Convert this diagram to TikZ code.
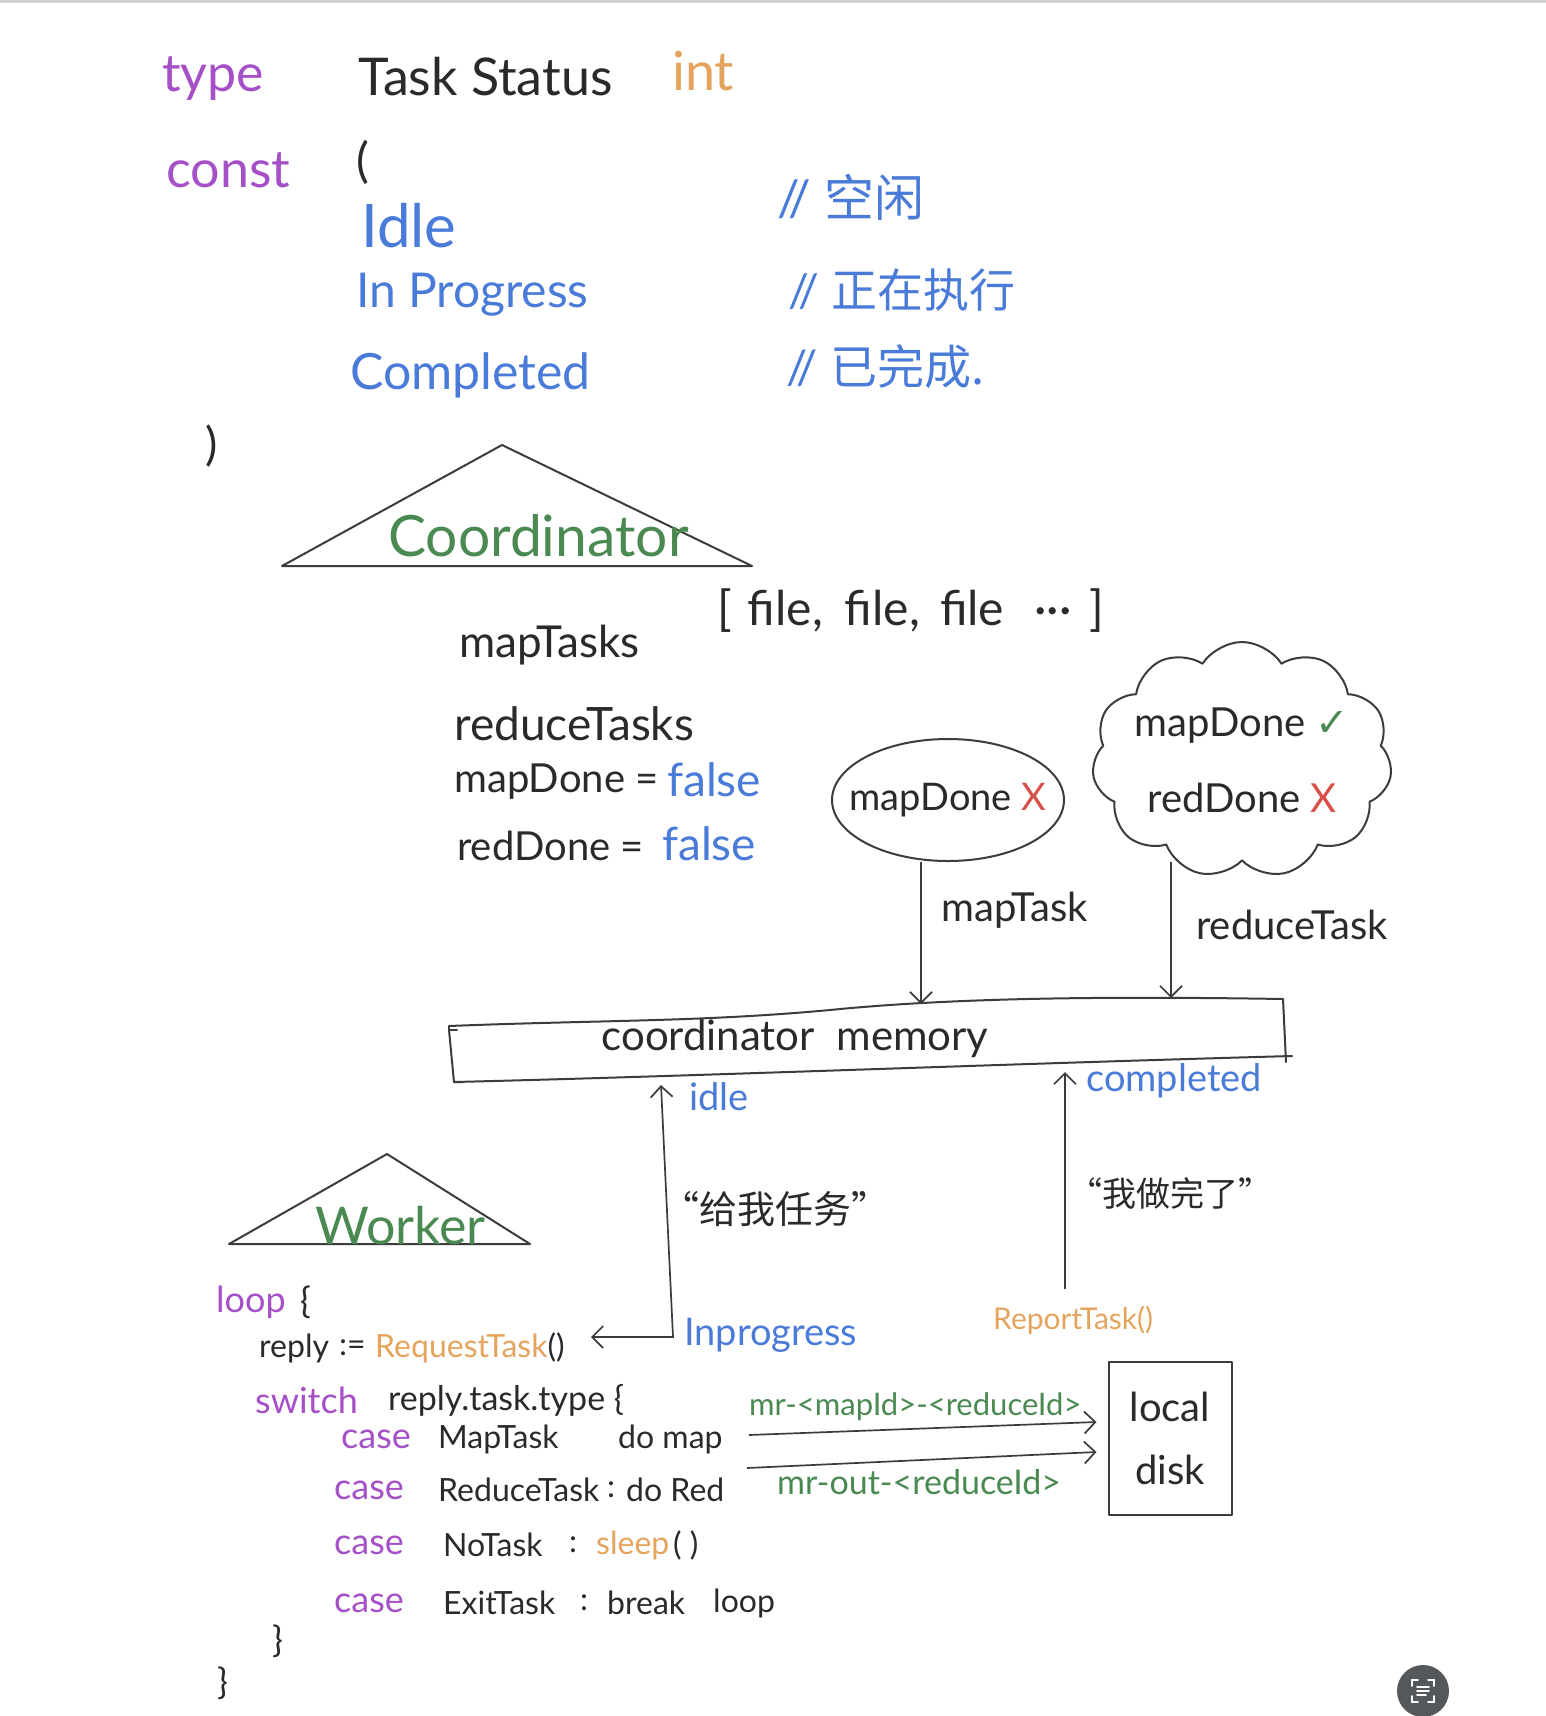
\documentclass[tikz,border=0pt]{standalone}
\usepackage{fontspec}
\setmainfont{Lato}
\newfontfamily\cjk{Noto Sans CJK SC}
\newfontfamily\symf{DejaVu Sans}
\usetikzlibrary{arrows.meta,shapes.geometric,shapes.symbols,calc}
\definecolor{kw}{HTML}{A650C8}
\definecolor{bl}{HTML}{4A7BD8}
\definecolor{og}{HTML}{E5A45E}
\definecolor{gr}{HTML}{4A8A52}
\definecolor{rd}{HTML}{D8504A}
\definecolor{ink}{HTML}{2A2A2A}
\definecolor{pen}{HTML}{3C3C3C}
\definecolor{iconbg}{HTML}{55585B}
\begin{document}
\begin{tikzpicture}[x=1pt,y=-1pt,
  txt/.style={inner sep=0pt, anchor=west, text=ink},
  fz/.style={font=\fontsize{#1}{#1}\selectfont},
  pen/.style={draw=pen, line width=2pt, line join=round, line cap=round},
  arr/.style={draw=pen, line width=1.7pt, -{Straight Barb[length=11pt,width=22pt,line width=1.7pt]}},
  arrb/.style={draw=pen, line width=1.7pt, {Straight Barb[length=11pt,width=22pt,line width=1.7pt]}-{Straight Barb[length=11pt,width=22pt,line width=1.7pt]}}
]
\useasboundingbox (0,0) rectangle (1546,1716);
\fill[white] (0,0) rectangle (1546,1716);
\fill[gray!35] (0,0) rectangle (1546,3);

% ---------- header ----------
\node[txt,fz=52,text=kw] (type) at (162,79) {type};
\node[txt,fz=52] (tstatus) at (358,77) {Task Status};
\node[txt,fz=54,text=og] (int) at (672,71) {int};
\node[txt,fz=52,text=kw] (const) at (166,170) {const};
\node[txt,fz=48] (lpar) at (356,162) {(};
\node[txt,fz=60,text=bl] (idle) at (361,226) {Idle};
\node[txt,fz=48,text=bl] (inprog) at (356,295) {In Progress};
\node[txt,fz=50,text=bl] (compl) at (350,375) {Completed};
\node[txt,fz=50,text=bl] (c1) at (777,197) {// {\cjk 空闲}};
\node[txt,fz=46,text=bl] (c2) at (788,290) {// {\cjk 正在执行}};
\node[txt,fz=47,text=bl] (c3) at (786,367) {// {\cjk 已完成.}};
\node[txt,fz=46] (rpar) at (205,446) {)};

% ---------- coordinator ----------
\coordinate (ctA) at (502,445);
\coordinate (ctL) at (282,566);
\coordinate (ctR) at (752,566);
\draw[pen] (ctL) -- (ctA) -- (ctR) -- cycle;
\node[txt,fz=57,text=gr] (coordt) at (388,536) {Coordinator};

\node[txt,fz=44] (maptasks) at (459,645) {mapTasks};
\node[txt,fz=48] (files) at (717,611) {[\hspace{16pt}file,\hspace{22pt}file,\hspace{20pt}file\hspace{30pt}···\hspace{18pt}]};
\node[txt,fz=46] (redtasks) at (454,724) {reduceTasks};
\node[txt,fz=40] (mapdone) at (454,782) {mapDone =};
\node[txt,fz=46,text=bl] (f1) at (667,780) {false};
\node[txt,fz=40] (reddone) at (457,846) {redDone =};
\node[txt,fz=46,text=bl] (f2) at (662,844) {false};

\node[ellipse, pen, minimum width=232, minimum height=122, inner xsep=-30pt, inner ysep=0pt,
      fz=38, text=ink] (ell) at (948,800) {mapDone \textcolor{rd}{X}};
\node[cloud, pen, cloud puffs=11, cloud puff arc=115, aspect=1.25,
      minimum width=300, minimum height=236, inner xsep=-22pt, inner ysep=-28pt, align=center,
      font=\fontsize{40}{76}\selectfont, text=ink] (cld) at (1242,760)
      {mapDone {\symf\textcolor{gr}{✓}}\\redDone \textcolor{rd}{X}};

% ---------- memory ----------
\coordinate (mTL) at (449,1026);
\coordinate (mTR) at (1283,999);
\coordinate (mBR) at (1286,1062);
\coordinate (mBL) at (454,1082);
\draw[pen] (mTL) .. controls (600,1020) and (700,1022) .. (830,1010)
  .. controls (950,998) and (1100,996) .. (mTR) -- (mBR);
\draw[pen] (mTL) -- ([yshift=-4pt]mTL) -- ++(8,0);
\draw[pen] ([yshift=-4pt]mTL) -- (mBL) -- ++(8,0);
\draw[pen] (mBL) .. controls (700,1076) and (1000,1064) .. (1292,1056);
\node[txt,fz=42,anchor=center] (mem) at (795,1039) {coordinator \ memory};

\coordinate (mA) at (921,1004);
\coordinate (mB) at (1171,998);
\draw[arr] (ell.south -| mA) -- (mA);
\draw[arr] (cld.south -| mB) -- (mB);
\node[txt,fz=40] (lmaptask) at (941,910) {mapTask};
\node[txt,fz=40] (lredtask) at (1196,925) {reduceTask};

% ---------- worker ----------
\coordinate (wtA) at (387,1154);
\coordinate (wtL) at (229,1244);
\coordinate (wtR) at (530,1244);
\draw[pen] (wtL) -- (wtA) -- (wtR) -- cycle;
\node[txt,fz=52,text=gr] (workert) at (315,1226) {Worker};

\node[txt,fz=36,text=kw] (loop) at (216,1302) {loop};
\node[txt,fz=36] (lb1) at (300,1302) {\{};
\node[txt,fz=32] (reply) at (259,1348) {reply};
\node[txt,fz=32] (assign) at (339,1348) {:=};
\node[txt,fz=32] (req) at (375,1348) {\textcolor{og}{RequestTask}()};
\node[txt,fz=36,text=kw] (switch) at (255,1400) {switch};
\node[txt,fz=34] (rtt) at (388,1400) {reply.task.type \{};

\node[txt,fz=36,text=kw] (case1) at (341,1439) {case};
\node[txt,fz=32] (maptask) at (438,1439) {MapTask};
\node[txt,fz=32] (domap) at (618,1439) {do map};
\node[txt,fz=36,text=kw] (case2) at (334,1490) {case};
\node[txt,fz=32] (redtask) at (438,1490) {ReduceTask};
\node[txt,fz=32] (col2) at (607,1490) {:};
\node[txt,fz=32] (dored) at (626,1490) {do Red};
\node[txt,fz=36,text=kw] (case3) at (334,1545) {case};
\node[txt,fz=32] (notask) at (443,1545) {NoTask};
\node[txt,fz=32] (col3) at (569,1545) {:};
\node[txt,fz=32,text=og] (sleep) at (596,1545) {sleep};
\node[txt,fz=32] (par3) at (673,1545) {( )};
\node[txt,fz=36,text=kw] (case4) at (334,1603) {case};
\node[txt,fz=32] (exittask) at (443,1603) {ExitTask};
\node[txt,fz=32] (col4) at (580,1603) {:};
\node[txt,fz=32] (break) at (607,1603) {break};
\node[txt,fz=32] (loop2) at (713,1603) {loop};
\node[txt,fz=36] (rb1) at (272,1641) {\}};
\node[txt,fz=36] (rb2) at (217,1683) {\}};

% ---------- request / report arrows ----------
\coordinate (mIdle) at (661,1085);
\coordinate (bend) at (673,1337);
\coordinate (reqEnd) at (591,1337);
\draw[arrb] (mIdle) -- (bend) -- (reqEnd);
\node[txt,fz=38,text=bl] (lidle) at (689,1097) {idle};
\node[txt,fz=38] (give) at (661,1209) {\cjk “给我任务”};
\node[txt,fz=38,text=bl] (linprog) at (684,1335) {Inprogress};

\node[txt,fz=30,text=og] (report) at (993,1320) {ReportTask()};
\coordinate (mComp) at (1065,1072);
\draw[arr] (mComp |- 0,1289) -- (mComp);
\node[txt,fz=38,text=bl] (lcomp) at (1086,1081) {completed};
\node[txt,fz=34] (done) at (1068,1193) {\cjk “我做完了”};

% ---------- local disk ----------
\node[rectangle, pen, minimum width=123, minimum height=153, inner sep=0pt,
      align=center, font=\fontsize{40}{63}\selectfont, text=ink] (disk) at (1170,1438) {local\\disk};
\coordinate (d1s) at (749,1435);
\coordinate (d2s) at (747,1468);
\draw[arr] (d1s) -- ([shift={(-11,-16)}]disk.west);
\draw[arr] (d2s) -- ([shift={(-11,14)}]disk.west);
\node[txt,fz=31,text=gr] (lmr1) at (749,1407) {mr-<mapId>-<reduceId>};
\node[txt,fz=34,text=gr] (lmr2) at (777,1482) {mr-out-<reduceId>};

% ---------- corner icon ----------
\node[circle, fill=iconbg, minimum size=52, inner sep=0pt] (icon) at (1423,1691) {};
\begin{scope}[shift={(icon.center)}]
  \draw[white,line width=1.8pt,line cap=round] (-11,-5) -- (-11,-11) -- (-5,-11);
  \draw[white,line width=1.8pt,line cap=round] (5,-11) -- (11,-11) -- (11,-5);
  \draw[white,line width=1.8pt,line cap=round] (-11,5) -- (-11,11) -- (-5,11);
  \draw[white,line width=1.8pt,line cap=round] (5,11) -- (11,11) -- (11,5);
  \draw[white,line width=1.8pt,line cap=round] (-6,-4) -- (6,-4);
  \draw[white,line width=1.8pt,line cap=round] (-6,0) -- (6,0);
  \draw[white,line width=1.8pt,line cap=round] (-6,4) -- (3,4);
\end{scope}
\end{tikzpicture}
\end{document}
